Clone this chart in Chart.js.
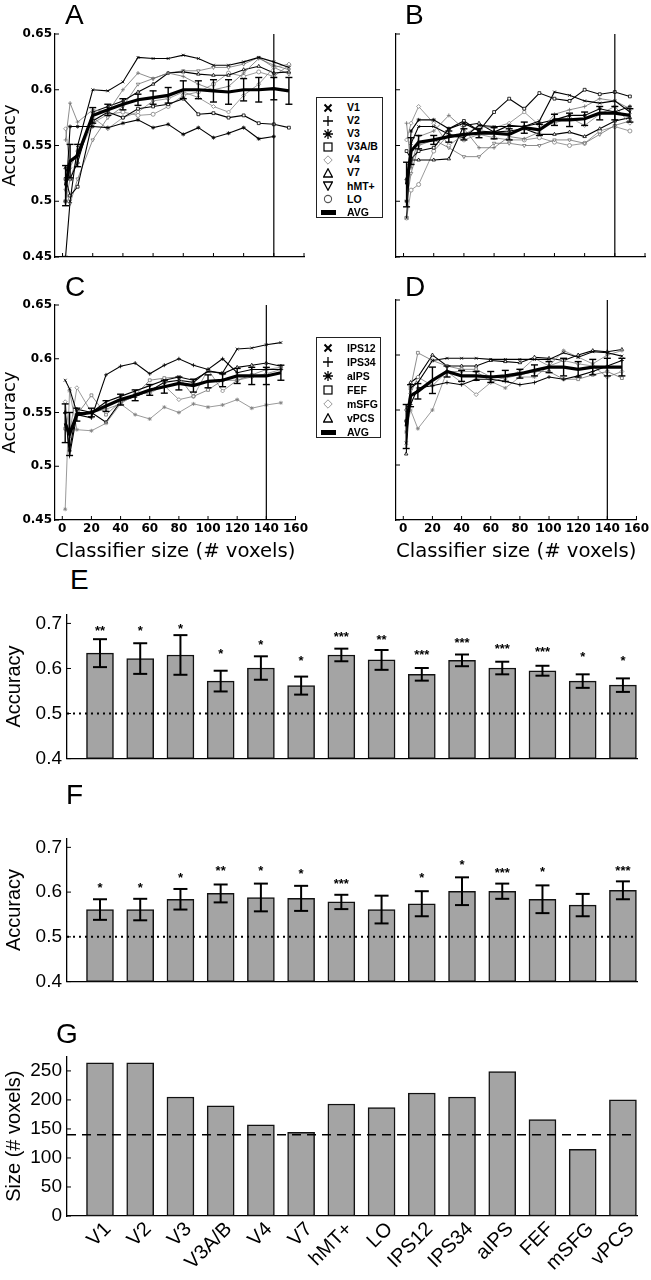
<!DOCTYPE html>
<html>
<head>
<meta charset="utf-8">
<script src="https://cdn.jsdelivr.net/npm/chart.js@4.4.1/dist/chart.umd.min.js"></script>
<style>
  body { margin: 0; background: #fff; }
  #fig { position: relative; width: 651px; height: 1280px; overflow: hidden; background: #fff; }
  canvas { position: absolute; }
  .letter { position: absolute; font: 28px/28px "Liberation Sans", Arial, sans-serif; color: #000; }
  .legend { position: absolute; border: 1px solid #222; background: #fff; box-sizing: border-box; padding-top: 3px;
            font: bold 10.5px "Liberation Sans", Arial, sans-serif; color: #000; }
  .legend .row { position: relative; }
  .legend svg { position: absolute; left: 6px; }
  .legend .txt { position: absolute; left: 30px; }
  .legend .bar { position: absolute; left: 4px; width: 15px; height: 5px; background: #000; }
</style>
</head>
<body>
<div id="fig">
  <canvas id="cA" width="310" height="275" style="left:0;top:0"></canvas>
  <canvas id="cB" width="310" height="275" style="left:341px;top:0"></canvas>
  <canvas id="cC" width="310" height="294" style="left:0;top:270px"></canvas>
  <canvas id="cD" width="310" height="294" style="left:341px;top:270px"></canvas>
  <canvas id="cE" width="651" height="177" style="left:0;top:598px"></canvas>
  <canvas id="cF" width="651" height="176" style="left:0;top:822px"></canvas>
  <canvas id="cG" width="651" height="240" style="left:0;top:1040px"></canvas>

  <div class="letter" style="left:65px;top:1px">A</div>
  <div class="letter" style="left:405px;top:1px">B</div>
  <div class="letter" style="left:65px;top:273px">C</div>
  <div class="letter" style="left:405px;top:273px">D</div>
  <div class="letter" style="left:70px;top:566px">E</div>
  <div class="letter" style="left:66px;top:781px">F</div>
  <div class="letter" style="left:56px;top:1020px">G</div>

  <div id="legVis" class="legend" style="left:316px;top:97px;width:67px;height:121px"></div>
  <div id="legFront" class="legend" style="left:316px;top:337px;width:65px;height:101px"></div>
</div>

<script>
// classifier sizes (# voxels) on the x axis of A-D
const sizes = [2, 5, 10, 20, 30, 40, 50, 60, 70, 80, 90, 100, 110, 120, 130, 140, 150];
const sizeTicks = [0, 20, 40, 60, 80, 100, 120, 140, 160];
const accTicks = [0.45, 0.5, 0.55, 0.6, 0.65];

const visualRois = ['V1', 'V2', 'V3', 'V3A/B', 'V4', 'V7', 'hMT+', 'LO'];
const visualColors = ['#000', '#707070', '#000', '#000', '#808080', '#000', '#707070', '#808080'];
const visualMarkers = ['crossRot', 'cross', 'star', 'rect', 'rectRot', 'triangle', 'triangle', 'circle'];
const visualRotation = [0, 0, 0, 0, 0, 0, 180, 0];
const visualSymColors = ['#000', '#000', '#000', '#000', '#999', '#000', '#000', '#555'];

const frontalRois = ['IPS12', 'IPS34', 'aIPS', 'FEF', 'mSFG', 'vPCS'];
const frontalColors = ['#000', '#000', '#808080', '#707070', '#808080', '#000'];
const frontalMarkers = ['crossRot', 'cross', 'star', 'rect', 'rectRot', 'triangle'];
const frontalRotation = [0, 0, 0, 0, 0, 0];
const frontalSymColors = ['#000', '#000', '#000', '#000', '#999', '#000'];

// Panel A: visual ROIs, one row per ROI
const accA = [
  [0.45, 0.50, 0.55, 0.600, 0.599, 0.607, 0.629, 0.628, 0.628, 0.631, 0.628, 0.622, 0.622, 0.625, 0.629, 0.625, 0.620],
  [0.555, 0.588, 0.571, 0.582, 0.580, 0.600, 0.615, 0.610, 0.615, 0.612, 0.605, 0.600, 0.603, 0.615, 0.628, 0.622, 0.618],
  [0.50, 0.567, 0.567, 0.567, 0.566, 0.570, 0.573, 0.566, 0.569, 0.560, 0.566, 0.557, 0.561, 0.566, 0.556, 0.558, null],
  [0.52, 0.505, 0.513, 0.572, 0.580, 0.575, 0.583, 0.585, 0.587, 0.592, 0.578, 0.579, 0.575, 0.577, 0.570, 0.569, 0.566],
  [0.565, 0.530, 0.545, 0.575, 0.565, 0.575, 0.580, 0.590, 0.592, 0.598, 0.593, 0.585, 0.580, 0.595, 0.605, 0.620, 0.623],
  [0.530, 0.520, 0.535, 0.580, 0.585, 0.590, 0.598, 0.605, 0.615, 0.616, 0.614, 0.613, 0.613, 0.618, 0.621, 0.615, 0.616],
  [0.510, 0.498, 0.520, 0.555, 0.575, 0.585, 0.605, 0.610, 0.615, 0.617, 0.617, 0.620, 0.620, 0.623, 0.629, 0.620, 0.614],
  [0.500, 0.520, 0.540, 0.570, 0.578, 0.580, 0.577, 0.578, 0.585, 0.595, 0.598, 0.605, 0.615, 0.612, 0.616, 0.612, 0.622]
];
const avgA = [0.514, 0.536, 0.541, 0.577, 0.582, 0.587, 0.591, 0.593, 0.595, 0.600, 0.600, 0.599, 0.598, 0.600, 0.600, 0.601, 0.599];
const errA = [0.018, 0.015, 0.010, 0.007, 0.005, 0.005, 0.005, 0.006, 0.007, 0.008, 0.008, 0.010, 0.011, 0.010, 0.011, 0.010, 0.012];

// Panel B: visual ROIs
const accB = [
  [0.485, 0.552, 0.567, 0.567, 0.560, 0.557, 0.568, 0.567, 0.567, 0.567, 0.572, 0.598, 0.595, 0.590, 0.588, 0.590, 0.580],
  [0.570, 0.530, 0.558, 0.563, 0.577, 0.565, 0.548, 0.548, 0.558, 0.556, 0.562, 0.578, 0.582, 0.585, 0.592, 0.590, 0.583],
  [0.500, 0.563, 0.573, 0.573, 0.565, 0.570, 0.563, 0.562, 0.568, 0.567, 0.570, 0.573, 0.577, 0.577, 0.583, 0.580, 0.585],
  [0.545, 0.538, 0.545, 0.548, 0.565, 0.572, 0.563, 0.580, 0.592, 0.583, 0.597, 0.592, 0.590, 0.600, 0.596, 0.598, 0.594],
  [0.555, 0.570, 0.585, 0.570, 0.550, 0.560, 0.567, 0.566, 0.570, 0.580, 0.568, 0.570, 0.575, 0.568, 0.578, 0.585, 0.570],
  [0.520, 0.537, 0.537, 0.537, 0.538, 0.568, 0.570, 0.562, 0.563, 0.565, 0.560, 0.560, 0.562, 0.558, 0.565, 0.572, 0.575],
  [0.500, 0.525, 0.550, 0.555, 0.548, 0.540, 0.540, 0.552, 0.552, 0.550, 0.550, 0.555, 0.555, 0.552, 0.560, 0.568, 0.572],
  [0.485, 0.510, 0.515, 0.545, 0.560, 0.555, 0.560, 0.557, 0.555, 0.555, 0.557, 0.553, 0.550, 0.552, 0.563, 0.567, 0.563]
];
const avgB = [0.515, 0.545, 0.553, 0.555, 0.558, 0.560, 0.561, 0.561, 0.560, 0.566, 0.564, 0.573, 0.573, 0.574, 0.579, 0.579, 0.577];
const errB = [0.020, 0.012, 0.006, 0.004, 0.005, 0.005, 0.004, 0.005, 0.005, 0.005, 0.005, 0.005, 0.006, 0.006, 0.006, 0.006, 0.006];

// Panel C: fronto-parietal ROIs
const accC = [
  [0.580, 0.572, 0.550, 0.550, 0.560, 0.565, 0.570, 0.575, 0.580, 0.583, 0.580, 0.588, 0.587, 0.609, 0.610, 0.613, 0.615],
  [0.550, 0.510, 0.548, 0.545, 0.585, 0.593, 0.596, 0.586, 0.594, 0.600, 0.594, 0.590, 0.600, 0.587, 0.590, 0.590, 0.590],
  [0.460, 0.570, 0.534, 0.533, 0.540, 0.558, 0.548, 0.544, 0.555, 0.550, 0.558, 0.555, 0.557, 0.562, 0.554, 0.557, 0.559],
  [0.535, 0.528, 0.548, 0.566, 0.548, 0.560, 0.566, 0.580, 0.582, 0.583, 0.565, 0.571, 0.580, 0.580, 0.585, 0.590, 0.592],
  [0.560, 0.530, 0.573, 0.550, 0.553, 0.558, 0.567, 0.568, 0.575, 0.562, 0.565, 0.590, 0.570, 0.580, 0.583, 0.586, 0.590],
  [0.550, 0.515, 0.553, 0.550, 0.541, 0.560, 0.565, 0.570, 0.578, 0.580, 0.578, 0.589, 0.586, 0.592, 0.594, 0.596, 0.593]
];
const avgC = [0.540, 0.530, 0.548, 0.550, 0.556, 0.562, 0.566, 0.571, 0.574, 0.577, 0.575, 0.579, 0.580, 0.584, 0.584, 0.584, 0.587];
const errC = [0.018, 0.020, 0.006, 0.004, 0.005, 0.005, 0.005, 0.005, 0.006, 0.006, 0.006, 0.006, 0.006, 0.007, 0.008, 0.008, 0.007];

// Panel D: fronto-parietal ROIs
const accD = [
  [0.520, 0.570, 0.575, 0.595, 0.597, 0.597, 0.597, 0.596, 0.596, 0.596, 0.596, 0.596, 0.602, 0.598, 0.603, 0.602, 0.599],
  [0.540, 0.555, 0.570, 0.572, 0.575, 0.573, 0.578, 0.578, 0.576, 0.573, 0.575, 0.580, 0.578, 0.581, 0.585, 0.590, 0.595],
  [0.530, 0.550, 0.533, 0.550, 0.585, 0.585, 0.585, 0.576, 0.570, 0.580, 0.580, 0.590, 0.604, 0.598, 0.592, 0.600, 0.604],
  [0.540, 0.570, 0.602, 0.595, 0.590, 0.587, 0.587, 0.580, 0.579, 0.582, 0.585, 0.585, 0.578, 0.578, 0.582, 0.585, 0.579],
  [0.550, 0.565, 0.580, 0.572, 0.585, 0.575, 0.564, 0.575, 0.580, 0.585, 0.597, 0.590, 0.595, 0.592, 0.590, 0.580, 0.585],
  [0.510, 0.575, 0.580, 0.600, 0.590, 0.590, 0.590, 0.595, 0.594, 0.593, 0.598, 0.597, 0.595, 0.600, 0.604, 0.603, 0.605]
];
const avgD = [0.535, 0.563, 0.567, 0.577, 0.585, 0.581, 0.581, 0.580, 0.581, 0.583, 0.586, 0.589, 0.589, 0.587, 0.589, 0.589, 0.589];
const errD = [0.020, 0.010, 0.007, 0.012, 0.005, 0.005, 0.004, 0.005, 0.005, 0.004, 0.005, 0.005, 0.008, 0.007, 0.007, 0.008, 0.008];

// Panels E-G: all 14 ROIs
const roiNames = ['V1', 'V2', 'V3', 'V3A/B', 'V4', 'V7', 'hMT+', 'LO', 'IPS12', 'IPS34', 'aIPS', 'FEF', 'mSFG', 'vPCS'];
const barAccTicks = [0.4, 0.45, 0.5, 0.55, 0.6, 0.65, 0.7];

const accE = [0.634, 0.622, 0.630, 0.572, 0.601, 0.562, 0.630, 0.619, 0.587, 0.618, 0.601, 0.595, 0.572, 0.563];
const errE = [0.031, 0.034, 0.044, 0.023, 0.026, 0.020, 0.014, 0.022, 0.014, 0.013, 0.014, 0.011, 0.015, 0.015];
const starsE = ['**', '*', '*', '*', '*', '*', '***', '**', '***', '***', '***', '***', '*', '*'];
const starYE = [0.693, 0.691, 0.697, 0.640, 0.662, 0.626, 0.678, 0.671, 0.639, 0.665, 0.653, 0.645, 0.635, 0.626];

const accF = [0.561, 0.561, 0.584, 0.597, 0.588, 0.586, 0.578, 0.561, 0.574, 0.602, 0.602, 0.584, 0.571, 0.604];
const errF = [0.023, 0.024, 0.023, 0.020, 0.031, 0.028, 0.016, 0.031, 0.028, 0.031, 0.017, 0.031, 0.025, 0.020];
const starsF = ['*', '*', '*', '**', '*', '*', '***', '', '*', '*', '***', '*', '', '***'];
const starYF = [0.619, 0.619, 0.641, 0.655, 0.655, 0.650, 0.628, null, 0.641, 0.670, 0.651, 0.653, null, 0.657];

const sizeG = [264, 264, 205, 190, 157, 144, 193, 187, 212, 205, 249, 166, 115, 200];
const sizeTicksG = [0, 50, 100, 150, 200, 250];

// draws inward tick marks, reference lines, error bars, stars and slanted category names
const decor = {
  id: 'decor',
  afterDatasetsDraw(chart, args, o) {
    const { ctx, chartArea: a } = chart;
    const x = chart.scales.x, y = chart.scales.y;
    const seg = (x1, y1, x2, y2) => { ctx.beginPath(); ctx.moveTo(x1, y1); ctx.lineTo(x2, y2); ctx.stroke(); };
    ctx.save();
    ctx.strokeStyle = '#000';
    ctx.fillStyle = '#000';
    ctx.lineWidth = 1;
    if (o.yMarks) y.ticks.forEach(t => { const p = y.getPixelForValue(t.value); seg(a.left, p, a.left + 4, p); });
    if (o.xMarks) x.ticks.forEach(t => { const p = x.getPixelForValue(t.value); seg(p, a.bottom, p, a.bottom - 4); });
    if (o.vline != null) {
      ctx.lineWidth = 1.2;
      const p = x.getPixelForValue(o.vline);
      seg(p, a.bottom, p, a.top);
    }
    if (o.err) {
      ctx.lineWidth = o.err.width;
      const c = o.err.cap;
      o.err.mean.forEach((m, i) => {
        if (m == null) return;
        const px = x.getPixelForValue(o.err.x[i]);
        const hi = y.getPixelForValue(m + o.err.half[i]);
        const lo = y.getPixelForValue(m - o.err.half[i]);
        seg(px, hi, px, lo);
        seg(px - c, hi, px + c, hi);
        seg(px - c, lo, px + c, lo);
      });
    }
    if (o.hline) {
      ctx.lineWidth = o.hline.width;
      ctx.setLineDash(o.hline.dash);
      const p = y.getPixelForValue(o.hline.value);
      seg(a.left, p, a.right, p);
      ctx.setLineDash([]);
    }
    if (o.stars) {
      ctx.font = o.stars.font;
      ctx.textAlign = 'center';
      ctx.textBaseline = 'alphabetic';
      o.stars.text.forEach((s, i) => {
        if (!s) return;
        ctx.fillText(s, x.getPixelForValue(i + 1), y.getPixelForValue(o.stars.y[i]) + o.stars.shift);
      });
    }
    if (o.names) {
      ctx.font = '20px "Liberation Sans", Arial, sans-serif';
      ctx.textAlign = 'right';
      ctx.textBaseline = 'middle';
      o.names.forEach((n, i) => {
        ctx.save();
        ctx.translate(x.getPixelForValue(i + 1) + 8, a.bottom + 10);
        ctx.rotate(-Math.PI / 4);
        ctx.fillText(n, 0, 0);
        ctx.restore();
      });
    }
    ctx.restore();
  }
};

Chart.defaults.color = '#000';
Chart.defaults.font.family = '"DejaVu Sans", sans-serif';

function linePanel(id, rois, colors, markers, rotation, acc, avg, err, showY, showX) {
  const datasets = [{
    data: sizes.map((v, i) => ({ x: v, y: avg[i] })),
    borderColor: '#000', borderWidth: 3.2, pointRadius: 0
  }];
  rois.forEach((name, r) => datasets.push({
    label: name,
    data: sizes.map((v, i) => ({ x: v, y: acc[r][i] })),
    borderColor: colors[r],
    borderWidth: colors[r] === '#000' ? 1.1 : 0.8,
    pointStyle: markers[r], rotation: rotation[r],
    pointRadius: 2, pointBorderWidth: 0.8,
    pointBorderColor: colors[r], pointBackgroundColor: '#fff'
  }));

  const top = showX ? (id === 'cC' ? 35 : 30) : 34;
  new Chart(document.getElementById(id), {
    type: 'line',
    data: { datasets },
    options: {
      responsive: false, animation: false, devicePixelRatio: 1,
      layout: { padding: { top, right: 6, left: 0, bottom: 0 } },
      plugins: {
        legend: { display: false }, tooltip: { enabled: false },
        decor: { yMarks: true, xMarks: true, vline: 140,
                 err: { x: sizes, mean: avg, half: err, cap: 3.5, width: 1.4 } }
      },
      scales: {
        x: {
          type: 'linear', min: -5, max: 160,
          grid: { display: false, drawTicks: false, tickLength: 0 }, border: { color: '#000', width: 1.2 },
          afterBuildTicks: s => { s.ticks = sizeTicks.map(v => ({ value: v })); },
          ticks: { display: showX, maxRotation: 0, padding: 2, font: { size: 12, weight: 'bold' } },
          title: { display: showX, text: 'Classifier size (# voxels)', font: { size: 20 }, padding: 0 },
          afterFit: s => { s.height = showX ? 44 : 18; }
        },
        y: {
          type: 'linear', min: 0.45, max: 0.65,
          grid: { display: false, drawTicks: false, tickLength: 0 }, border: { color: '#000', width: 1.2 },
          afterBuildTicks: s => { s.ticks = accTicks.map(v => ({ value: v })); },
          ticks: { display: showY, padding: 3, font: { size: 12, weight: 'bold' },
                   callback: v => String(Math.round(v * 100) / 100) },
          title: { display: showY, text: 'Accuracy', font: { size: 18 }, padding: 0 },
          afterFit: s => { s.width = 55; }
        }
      }
    },
    plugins: [decor]
  });
}

function barPanel(id, values, opts) {
  new Chart(document.getElementById(id), {
    type: 'bar',
    data: {
      datasets: [{
        data: values.map((v, i) => ({ x: i + 1, y: v })),
        backgroundColor: '#a4a4a4', borderColor: '#111', borderWidth: 1.5,
        borderSkipped: false, barThickness: 27, base: opts.min
      }]
    },
    options: {
      responsive: false, animation: false, devicePixelRatio: 1,
      layout: { padding: { top: opts.padTop, right: 14, left: 0, bottom: 0 } },
      plugins: {
        legend: { display: false }, tooltip: { enabled: false },
        decor: { yMarks: true, hline: opts.hline, err: opts.err, stars: opts.stars, names: opts.names }
      },
      scales: {
        x: {
          type: 'linear', min: 0.18, max: 14.35, offset: false,
          grid: { display: false, drawTicks: false, tickLength: 0, offset: false }, border: { color: '#000', width: 1.3 },
          afterBuildTicks: s => { s.ticks = roiNames.map((n, i) => ({ value: i + 1 })); },
          ticks: { display: false },
          afterFit: s => { s.height = opts.names ? 64 : 2; }
        },
        y: {
          type: 'linear', min: opts.min, max: opts.max,
          grid: { display: false, drawTicks: false, tickLength: 0 }, border: { color: '#000', width: 1.3 },
          afterBuildTicks: s => { s.ticks = opts.ticks.map(v => ({ value: v })); },
          ticks: { padding: 5, font: { family: '"Liberation Sans", Arial, sans-serif', size: 19 },
                   callback: opts.label },
          title: { display: true, text: opts.title, padding: { top: 2, bottom: 0 },
                   font: { family: '"Liberation Sans", Arial, sans-serif', size: 20 } },
          afterFit: s => { s.width = 67; }
        }
      }
    },
    plugins: [decor]
  });
}

linePanel('cA', visualRois, visualColors, visualMarkers, visualRotation, accA, avgA, errA, true, false);
linePanel('cB', visualRois, visualColors, visualMarkers, visualRotation, accB, avgB, errB, false, false);
linePanel('cC', frontalRois, frontalColors, frontalMarkers, frontalRotation, accC, avgC, errC, true, true);
linePanel('cD', frontalRois, frontalColors, frontalMarkers, frontalRotation, accD, avgD, errD, false, true);

const tenths = v => (Math.round(v * 100) % 10 === 0 ? String(Math.round(v * 10) / 10) : '');
const dotted = { value: 0.5, dash: [2, 4], width: 2 };
barPanel('cE', accE, {
  min: 0.4, max: 0.72, padTop: 11, ticks: barAccTicks, label: tenths, title: 'Accuracy', names: null,
  hline: dotted,
  err: { x: roiNames.map((n, i) => i + 1), mean: accE, half: errE, cap: 7, width: 2 },
  stars: { text: starsE, y: starYE, font: 'bold 13px "Liberation Sans", Arial, sans-serif', shift: 8 }
});
barPanel('cF', accF, {
  min: 0.4, max: 0.72, padTop: 11, ticks: barAccTicks, label: tenths, title: 'Accuracy', names: null,
  hline: dotted,
  err: { x: roiNames.map((n, i) => i + 1), mean: accF, half: errF, cap: 7, width: 2 },
  stars: { text: starsF, y: starYF, font: 'bold 13px "Liberation Sans", Arial, sans-serif', shift: 8 }
});
barPanel('cG', sizeG, {
  min: 0, max: 275, padTop: 15, ticks: sizeTicksG, label: v => String(v), title: 'Size (# voxels)', names: roiNames,
  hline: { value: 140, dash: [9, 6], width: 1.3 }
});

// legend markers as small svg shapes matching the point styles
function markerSvg(style, rot, color) {
  let body;
  if (style === 'crossRot') body = `<path d="M1.5 1.5L8.5 8.5M8.5 1.5L1.5 8.5" stroke-width="2"/>`;
  else if (style === 'cross') body = `<path d="M5 0V10M0 5H10" stroke-width="1.3"/>`;
  else if (style === 'star') body = `<path d="M5 0V10M0 5H10M1.5 1.5L8.5 8.5M8.5 1.5L1.5 8.5" stroke-width="1.3"/>`;
  else if (style === 'rect') body = `<rect x="1" y="1" width="8" height="8" stroke-width="1.2"/>`;
  else if (style === 'rectRot') body = `<path d="M5 0.8L9.2 5L5 9.2L0.8 5Z" stroke-width="1"/>`;
  else if (style === 'triangle') body = `<path d="M5 0.8L9.4 9L0.6 9Z" stroke-width="1.3" transform="rotate(${rot} 5 5)"/>`;
  else body = `<circle cx="5" cy="5" r="3.6" stroke-width="1.1"/>`;
  return `<svg width="10" height="10" viewBox="0 0 10 10" fill="none" stroke="${color}">${body}</svg>`;
}

function buildLegend(elId, names, markers, rotation, colors, rowH) {
  const box = document.getElementById(elId);
  names.concat(['AVG']).forEach((n, i) => {
    const row = document.createElement('div');
    row.className = 'row';
    row.style.height = rowH + 'px';
    row.style.lineHeight = rowH + 'px';
    if (i < names.length) {
      row.innerHTML = markerSvg(markers[i], rotation[i], colors[i]);
      row.firstChild.style.top = (rowH / 2 - 5) + 'px';
    } else {
      const b = document.createElement('span');
      b.className = 'bar';
      b.style.top = (rowH / 2 - 2.5) + 'px';
      row.appendChild(b);
    }
    const t = document.createElement('span');
    t.className = 'txt';
    t.textContent = n;
    row.appendChild(t);
    box.appendChild(row);
  });
}
buildLegend('legVis', visualRois, visualMarkers, visualRotation, visualSymColors, 13.1);
buildLegend('legFront', frontalRois, frontalMarkers, frontalRotation, frontalSymColors, 14);
</script>
</body>
</html>
